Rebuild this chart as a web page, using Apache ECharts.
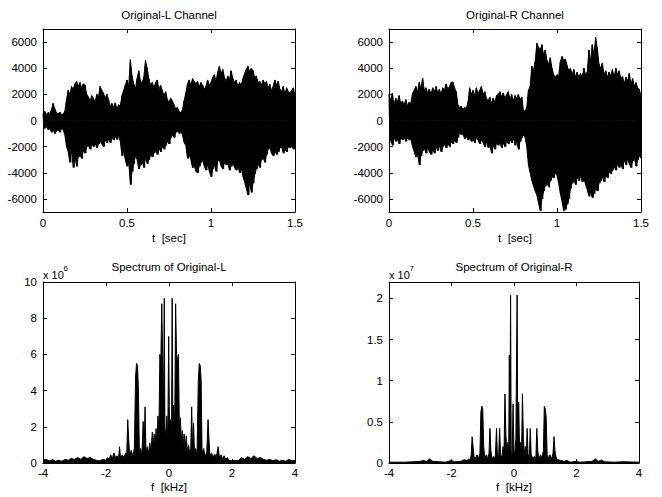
<!DOCTYPE html>
<html>
<head>
<meta charset="utf-8">
<script src="https://cdn.jsdelivr.net/npm/echarts@6/dist/echarts.min.js"></script>
<style>
html,body{margin:0;padding:0;background:#fff;}
#c{width:662px;height:497px;}
</style>
</head>
<body>
<div id="c"></div>
<script>
// ---- time-domain data (sample step 0.01 s, t = 0 .. 1.5) ----
var DT = 0.01;
var upperL = [500,700,450,600,550,800,1300,900,600,500,650,450,500,700,1600,2300,2000,2600,2400,2800,
3000,2600,2900,2500,2800,2700,2000,1800,1500,1900,1700,1400,2000,1800,2600,2300,2100,1700,2000,1600,
1100,1300,1000,1350,900,1200,1100,1900,2300,2700,3100,2600,4650,3400,2800,2400,3200,3800,3000,2900,
3300,4600,4000,3200,2700,2900,2500,2900,3100,2400,2700,2300,1900,2200,1600,1400,1700,1500,1200,900,
1000,700,600,800,1500,2100,2800,3100,2700,3200,3000,2800,3000,2600,2900,2700,2400,2600,3100,2700,
2900,3300,3500,3000,3700,4150,3600,3900,3300,3000,3400,3100,3800,3200,2900,3100,2600,2900,2700,3200,
3600,3900,4150,3700,4000,3800,3300,3400,2900,3000,2700,3100,2800,3000,2500,2750,2300,2600,3100,2700,
3000,2400,2200,2600,2000,2500,2200,2100,2300,2500,1900];
var lowerL = [-500,-600,-450,-700,-550,-900,-700,-1000,-800,-700,-900,-600,-700,-1100,-2000,-2400,-3200,-2200,-3600,-2700,
-3500,-2800,-2600,-2900,-2300,-2500,-2000,-1900,-2200,-1800,-2000,-1700,-2100,-1800,-1600,-1800,-2000,-1500,-1700,-1400,
-1700,-1300,-1500,-1200,-1450,-1100,-1600,-2700,-2300,-3000,-3500,-3100,-4900,-3900,-3300,-2700,-3000,-3700,-3400,-3100,
-3600,-2800,-3300,-3000,-2600,-2800,-2500,-2300,-2600,-2100,-2400,-2000,-2200,-1900,-1600,-1800,-1300,-1100,-1300,-900,
-800,-1000,-800,-1100,-1700,-1900,-2900,-2600,-3000,-3600,-3400,-3900,-4000,-3500,-3200,-3000,-3500,-3800,-3300,-3900,
-4300,-3700,-3400,-3900,-3100,-3000,-3500,-3700,-3200,-3400,-3300,-3800,-3500,-3200,-3600,-3800,-3400,-4000,-3600,-4300,
-4700,-5200,-5700,-4600,-5500,-4800,-4100,-3700,-3300,-3600,-3000,-2800,-3200,-2600,-2200,-2000,-2500,-2700,-2300,-2600,
-2400,-2100,-2000,-2500,-2200,-2400,-2000,-2100,-1900,-2200,-1800];
var upperR = [2000,1500,2100,1200,1700,1400,1900,1300,1500,1200,1600,1100,1400,1300,2100,2300,2600,2200,2900,2400,
3250,2300,2500,2100,2400,2000,2500,2200,2600,2100,2400,2000,2500,2300,2800,2400,2600,2900,2950,2500,
2200,1200,1000,1100,850,1000,900,1400,2500,2000,2300,1900,2500,2100,2300,2600,2000,2200,1700,1500,
1800,1300,1700,1400,1900,2000,2200,1800,2100,1700,2000,2200,1600,2000,1500,1900,1700,2000,1600,1800,
800,700,1000,2300,2600,4150,3800,4500,5900,5600,5400,5800,5000,5400,4600,4300,4800,4000,3500,3300,
3500,3400,4500,4900,4600,4700,4200,3800,4000,3500,3900,3300,3700,3300,3600,3300,4000,3500,3700,5400,
4500,5800,5000,6350,5500,4300,4000,4400,3500,3800,3300,3700,3400,3900,3300,4000,3500,3800,3200,3400,
2800,3300,3000,3600,2800,3200,2600,2900,2500,2400,1800];
var lowerR = [-1700,-1400,-1900,-1300,-1600,-1400,-1800,-1300,-1500,-1200,-1600,-1300,-1500,-1400,-2000,-2400,-2800,-2500,-3400,-2700,
-2300,-2100,-2500,-2000,-2400,-2600,-2200,-2500,-2000,-2300,-1900,-2400,-2000,-1800,-2100,-1700,-2000,-1600,-1800,-1500,
-1700,-1300,-900,-1100,-1000,-1400,-1200,-1500,-1300,-1600,-1400,-1700,-1300,-1500,-1800,-1500,-1700,-2000,-1600,-2100,
-1800,-2500,-1900,-2200,-1700,-1900,-1600,-2100,-1700,-2000,-1500,-1800,-1400,-1700,-1300,-1900,-1500,-2200,-1600,-1300,
-1100,-1300,-2000,-3400,-4000,-4600,-5000,-5400,-5700,-6300,-6900,-6000,-5400,-5000,-4700,-5100,-4600,-4300,-4400,-4000,
-4200,-4800,-5600,-6200,-6900,-6800,-6400,-6000,-5200,-4800,-4500,-4900,-4300,-4600,-4200,-4700,-4400,-4900,-5300,-5800,
-5500,-5900,-5600,-5200,-5400,-4800,-4600,-4300,-4700,-4200,-4400,-3900,-4100,-3800,-3500,-3800,-3300,-3600,-3300,-3700,
-3000,-3400,-2900,-3300,-3600,-3100,-2800,-3500,-3000,-2700,-2900];

// ---- spectra (f in kHz; L in units of 1e6, R in units of 1e7) ----
var specLf = [-4.0,-3.9,-3.8,-3.7,-3.6,-3.5,-3.4,-3.3,-3.2,-3.1,-3.0,-2.9,-2.8,-2.7,-2.6,-2.5,-2.4,-2.3,-2.2,-2.1,-2.0,
-1.95,-1.9,-1.85,-1.8,-1.75,-1.7,-1.65,-1.6,-1.57,-1.54,-1.48,-1.43,-1.38,-1.34,-1.31,-1.28,-1.25,-1.2,-1.15,-1.1,
-1.06,-1.03,-1.0,-0.97,-0.94,-0.9,-0.86,-0.82,-0.79,-0.76,-0.73,-0.69,-0.65,-0.61,-0.57,-0.53,-0.5,-0.47,-0.44,-0.41,
-0.38,-0.35,-0.32,-0.29,-0.26,-0.23,-0.2,-0.17,-0.15,-0.13,-0.1,-0.07,-0.04,-0.01,0.02,0.05,0.08,0.1,0.12,0.15,
0.18,0.21,0.24,0.27,0.3,0.33,0.36,0.39,0.42,0.45,0.48,0.51,0.55,0.58,0.62,0.66,0.69,0.72,0.75,0.78,
0.81,0.85,0.89,0.93,0.96,0.99,1.02,1.05,1.1,1.15,1.2,1.24,1.27,1.3,1.35,1.4,1.45,1.5,1.56,1.6,
1.65,1.7,1.75,1.8,1.85,1.9,2.0,2.1,2.2,2.3,2.4,2.5,2.6,2.7,2.8,2.9,3.0,3.1,3.2,3.3,3.4,3.5,3.6,3.7,3.8,3.9,4.0];
var specLv = [0.15,0.2,0.12,0.18,0.1,0.15,0.1,0.2,0.15,0.25,0.2,0.3,0.2,0.35,0.25,0.3,0.2,0.15,0.12,0.2,0.15,
0.3,0.2,0.45,0.25,0.55,0.3,0.4,0.25,0.9,0.3,0.45,0.3,0.55,0.5,2.4,1.3,0.4,0.7,0.35,0.8,
4.8,5.5,5.4,4.0,0.5,0.8,0.4,2.3,0.6,3.1,0.5,0.9,0.5,1.1,0.7,1.7,0.9,1.6,1.0,1.9,
1.3,2.6,1.6,6.0,5.5,8.8,6.0,3.0,9.1,2.0,1.4,2.6,1.2,7.0,1.2,2.4,1.5,9.1,2.5,3.2,
1.8,8.8,6.0,5.6,6.0,1.7,2.5,1.2,1.8,0.9,1.6,0.8,1.5,0.6,1.0,0.5,0.8,3.1,0.6,2.2,
0.5,0.8,0.4,4.5,5.5,5.4,4.6,0.5,0.8,0.35,0.6,2.4,1.3,0.4,0.55,0.3,0.5,0.3,0.9,0.3,
0.45,0.25,0.4,0.2,0.3,0.15,0.12,0.15,0.12,0.3,0.2,0.35,0.25,0.4,0.25,0.3,0.2,0.15,0.2,0.12,0.18,0.1,0.15,0.1,0.2,0.12,0.15];
var specRf = [-4.0,-3.5,-3.2,-3.0,-2.9,-2.8,-2.7,-2.6,-2.4,-2.2,-2.0,-1.9,-1.7,-1.6,-1.5,-1.45,-1.4,-1.37,-1.34,-1.31,-1.28,
-1.23,-1.18,-1.14,-1.09,-1.06,-1.03,-1.0,-0.97,-0.93,-0.88,-0.84,-0.8,-0.77,-0.74,-0.7,-0.65,-0.6,-0.56,-0.53,-0.49,
-0.46,-0.43,-0.39,-0.35,-0.32,-0.29,-0.26,-0.23,-0.2,-0.17,-0.15,-0.13,-0.11,-0.09,-0.06,-0.03,0.0,0.03,0.06,0.1,
0.12,0.15,0.18,0.21,0.24,0.27,0.3,0.33,0.36,0.39,0.42,0.45,0.49,0.52,0.55,0.6,0.65,0.7,0.73,0.76,
0.8,0.85,0.9,0.94,0.97,1.0,1.03,1.06,1.1,1.15,1.2,1.25,1.28,1.31,1.35,1.4,1.5,1.6,1.7,1.8,
2.0,2.1,2.3,2.5,2.6,2.7,2.8,2.9,3.2,3.5,4.0];
var specRv = [0.01,0.01,0.015,0.02,0.03,0.02,0.05,0.02,0.015,0.01,0.03,0.015,0.02,0.04,0.03,0.05,0.04,0.1,0.32,0.2,0.08,
0.06,0.1,0.05,0.12,0.62,0.69,0.66,0.2,0.06,0.1,0.05,0.12,0.42,0.15,0.05,0.08,0.06,0.42,0.08,0.1,
0.42,0.1,0.06,0.2,0.1,0.84,0.35,0.12,0.25,0.12,1.31,0.3,2.04,0.15,0.1,0.72,0.1,0.15,0.3,2.04,
0.2,0.74,0.12,0.25,0.1,0.84,0.3,0.1,0.2,0.06,0.42,0.1,0.08,0.42,0.1,0.06,0.08,0.06,0.42,0.15,
0.05,0.1,0.06,0.15,0.69,0.66,0.55,0.1,0.06,0.1,0.05,0.12,0.32,0.15,0.06,0.04,0.03,0.02,0.03,0.01,
0.02,0.01,0.015,0.02,0.05,0.02,0.035,0.015,0.01,0.015,0.01];

// ---- tick labels ----
var tTicks = [0, 0.5, 1, 1.5];
var ampTicks = [-6000, -4000, -2000, 0, 2000, 4000, 6000];
var fTicks = [-4, -2, 0, 2, 4];
var specLTicks = [0, 2, 4, 6, 8, 10];
var specRTicks = [0, 0.5, 1, 1.5, 2];

var titles = ['Original-L Channel', 'Original-R Channel', 'Spectrum of Original-L', 'Spectrum of Original-R'];

var FONT = 'Liberation Sans, Arial, Helvetica, sans-serif';
var grids = [
  {left: 43, top: 29, width: 252, height: 183},
  {left: 389, top: 29, width: 252, height: 183},
  {left: 43, top: 282, width: 252, height: 181},
  {left: 389, top: 282, width: 250, height: 181}
];

function pairs(vals, step) { return vals.map(function (v, i) { return [i * step, v]; }); }
function zip(xs, ys) { return xs.map(function (x, i) { return [x, ys[i]]; }); }
// vertical strokes: top of sample i, then bottom of sample i (half a step later)
function zigzag(up, lo, step) {
  var out = [];
  for (var i = 0; i < up.length; i++) {
    out.push([i * step, up[i]]);
    out.push([i * step + step / 2, lo[i]]);
  }
  return out;
}

var xAxes = [], yAxes = [], series = [];
var xCfg = [
  {min: 0, max: 1.5, ticks: tTicks},
  {min: 0, max: 1.5, ticks: tTicks},
  {min: -4, max: 4, ticks: fTicks},
  {min: -4, max: 4, ticks: fTicks}
];
var yCfg = [
  {min: -7000, max: 7000, ticks: ampTicks},
  {min: -7000, max: 7000, ticks: ampTicks},
  {min: 0, max: 10, ticks: specLTicks},
  {min: 0, max: 2.2, ticks: specRTicks}
];
grids.forEach(function (g, i) {
  var xc = xCfg[i], yc = yCfg[i];
  ['bottom', 'top'].forEach(function (pos) {
    xAxes.push({
      type: 'value', gridIndex: i, position: pos, min: xc.min, max: xc.max,
      axisLine: {show: true, onZero: false, lineStyle: {color: '#000', width: 1}},
      axisTick: {show: true, inside: true, length: 4, lineStyle: {color: '#000'}, customValues: xc.ticks},
      axisLabel: {show: pos === 'bottom', customValues: xc.ticks, color: '#000', fontSize: 11.5, fontFamily: FONT, margin: i < 2 ? 5 : 4,
        formatter: function (v) { return String(v); }},
      splitLine: {show: false}
    });
  });
  ['left', 'right'].forEach(function (pos) {
    yAxes.push({
      type: 'value', gridIndex: i, position: pos, min: yc.min, max: yc.max,
      axisLine: {show: true, onZero: false, lineStyle: {color: '#000', width: 1}},
      axisTick: {show: true, inside: true, length: 4, lineStyle: {color: '#000'}, customValues: yc.ticks},
      axisLabel: {show: pos === 'left', customValues: yc.ticks, color: '#000', fontSize: 11.5, fontFamily: FONT, margin: 6,
        formatter: function (v) { return String(v); }},
      splitLine: {show: false}
    });
  });
});

function lineSeries(gi, data, fill) {
  var s = {
    type: 'line', xAxisIndex: gi * 2, yAxisIndex: gi * 2, data: data, symbol: 'none',
    lineStyle: {color: '#000', width: 1}, silent: true, animation: false, clip: true
  };
  if (fill) s.areaStyle = {color: '#000', opacity: 1, origin: 0};
  return s;
}
series.push(lineSeries(0, pairs(upperL, DT), true));
series.push(lineSeries(0, pairs(lowerL, DT), true));
series.push(lineSeries(0, zigzag(upperL, lowerL, DT), false));
series.push(lineSeries(1, pairs(upperR, DT), true));
series.push(lineSeries(1, pairs(lowerR, DT), true));
series.push(lineSeries(1, zigzag(upperR, lowerR, DT), false));
series.push(lineSeries(2, zip(specLf, specLv), true));
series.push(lineSeries(3, zip(specRf, specRv), true));

var graphics = [];
function txt(s, x, y, size, align) {
  graphics.push({type: 'text', x: x, y: y, silent: true,
    style: {text: s, fill: '#000', font: size + 'px ' + FONT, textAlign: align || 'center', textVerticalAlign: 'middle'}});
}
txt(titles[0], 169, 15, 11.5);
txt(titles[1], 515, 15, 11.5);
txt(titles[2], 169, 267, 11.5);
txt(titles[3], 514, 267, 11.5);
txt('t  [sec]', 169, 238, 11.5);
txt('t  [sec]', 515, 238, 11.5);
txt('f  [kHz]', 169, 487, 11.5);
txt('f  [kHz]', 514, 487, 11.5);
// exponent labels
txt('x 10', 43, 275, 11, 'left');
txt('6', 63.5, 268, 8, 'left');
txt('x 10', 389, 275, 11, 'left');
txt('7', 409.5, 268, 8, 'left');

var chart = echarts.init(document.getElementById('c'), null, {renderer: 'svg'});
chart.setOption({
  animation: false,
  backgroundColor: '#fff',
  grid: grids.map(function (g) { return Object.assign({containLabel: false, show: false}, g); }),
  xAxis: xAxes,
  yAxis: yAxes,
  series: series,
  graphic: graphics
});
</script>
</body>
</html>
